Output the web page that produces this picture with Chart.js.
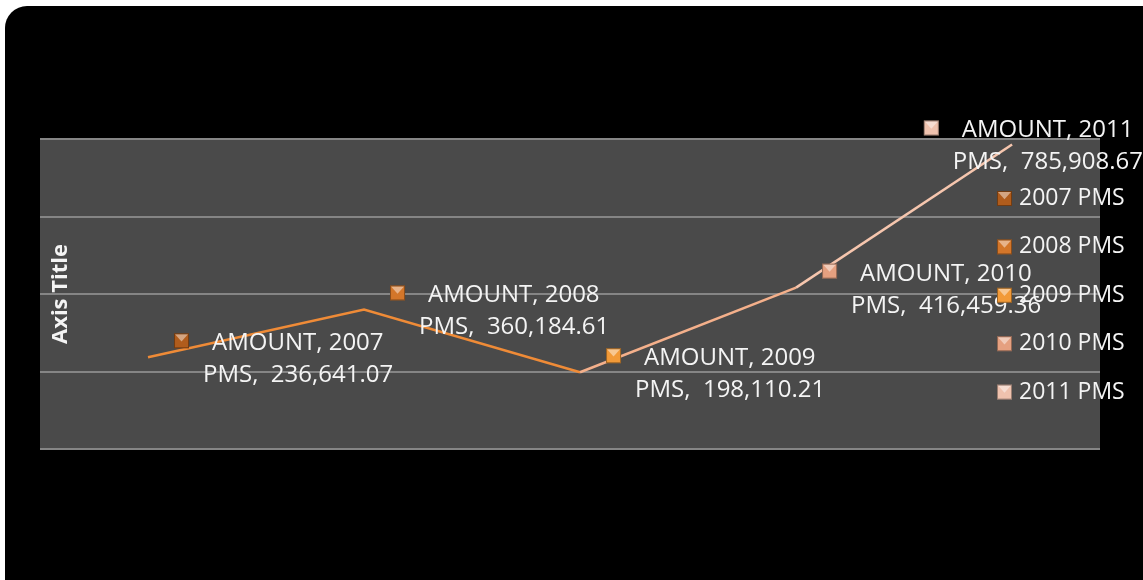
<!DOCTYPE html>
<html>
<head>
<meta charset="utf-8">
<script src="https://cdn.jsdelivr.net/npm/chart.js@4/dist/chart.umd.min.js"></script>
<style>
    html, body { margin:0; padding:0; background:#fff; overflow:hidden; }
    .frame { position:absolute; left:5px; top:6px; width:1170px; height:600px; background:#000; border-radius:22px; }
    #chart { position:absolute; left:0; top:0; }
</style>
</head>
<body>
<div class="frame"></div>
<canvas id="chart" width="1143" height="580"></canvas>
<script>
// datos
const years = ['2007', '2008', '2009', '2010', '2011'];
const seriesName = 'AMOUNT';
const unit = 'PMS';
const amounts = [236641.07, 360184.61, 198110.21, 416459.36, 785908.67];
const yTicks = [0, 200000, 400000, 600000, 800000];
const keyColors = ['#b05c1c', '#d3762a', '#f29a38', '#e5a080', '#efc2ae'];
const lineColors = ['#ef8b37', '#ef8b37', '#f4b08b', '#f6c6ae'];

const FONT = '"Open Sans", Lato, sans-serif';
const TEXT = '#f4f4f4';

function drawKey(ctx, x, y, s, color) {
    // cuadrito con bisel como en Excel
    ctx.save();
    ctx.fillStyle = color;
    ctx.fillRect(x, y, s, s);
    ctx.fillStyle = 'rgba(255,255,255,0.45)';
    ctx.beginPath();
    ctx.moveTo(x + 1, y + 1);
    ctx.lineTo(x + s - 1, y + 1);
    ctx.lineTo(x + s / 2, y + s * 0.55);
    ctx.closePath();
    ctx.fill();
    ctx.strokeStyle = 'rgba(0,0,0,0.35)';
    ctx.lineWidth = 1;
    ctx.strokeRect(x + 0.5, y + 0.5, s - 1, s - 1);
    ctx.restore();
}

const plotBg = {
    id: 'plotBg',
    beforeDraw(chart) {
        const { ctx, chartArea: a } = chart;
        ctx.save();
        ctx.fillStyle = '#4a4a4a';
        ctx.fillRect(a.left, a.top, a.right - a.left, a.bottom - a.top);
        ctx.restore();
    }
};

const labelsPlugin = {
    id: 'excelLabels',
    afterDatasetsDraw(chart) {
        const { ctx, chartArea: a } = chart;
        const meta = chart.getDatasetMeta(0);
        ctx.save();
        ctx.font = '24px ' + FONT;
        ctx.fillStyle = TEXT;
        ctx.textBaseline = 'alphabetic';
        ctx.textAlign = 'left';

        meta.data.forEach((pt, i) => {
            const l1 = seriesName + ', ' + years[i];
            const l2 = unit + ',  ' + amounts[i].toLocaleString('en-US', { minimumFractionDigits: 2, maximumFractionDigits: 2 });
            const l2w = ctx.measureText(l2).width;
            let left = pt.x + 26;
            let shift = Math.max(0, left + 29 + l2w - chart.width);
            left -= shift;
            drawKey(ctx, left, pt.y - 24, 15, keyColors[i]);
            ctx.fillStyle = TEXT;
            ctx.fillText(l1, left + 38, pt.y - 7);
            ctx.fillText(l2, left + 29, pt.y + 25);
        });

        // leyenda
        ctx.font = '23px ' + FONT;
        years.forEach((y, i) => {
            const base = 205 + i * 48.4;
            drawKey(ctx, 997, base - 14, 15, keyColors[i]);
            ctx.fillStyle = TEXT;
            ctx.fillText(y + ' ' + unit, 1019, base);
        });

        // titulo del eje
        ctx.font = 'bold 22px ' + FONT;
        ctx.textAlign = 'center';
        ctx.textBaseline = 'middle';
        ctx.translate(a.left + 21, (a.top + a.bottom) / 2);
        ctx.rotate(-Math.PI / 2);
        ctx.fillText('Axis Title', 0, 0);
        ctx.restore();
    }
};

new Chart(document.getElementById('chart'), {
    type: 'line',
    data: {
        datasets: [{
            label: seriesName,
            data: amounts.map((v, i) => ({ x: i, y: v })),
            borderWidth: 2.5,
            pointRadius: 0,
            tension: 0,
            fill: false,
            segment: {
                borderColor: c => lineColors[c.p0DataIndex]
            }
        }]
    },
    options: {
        responsive: false,
        devicePixelRatio: 1,
        animation: false,
        layout: { padding: { left: 40, right: 43, top: 139, bottom: 131 } },
        plugins: { legend: { display: false }, tooltip: { enabled: false } },
        scales: {
            x: { type: 'linear', min: -0.5, max: 4.407, display: false },
            y: {
                min: yTicks[0],
                max: yTicks[yTicks.length - 1],
                afterBuildTicks: s => { s.ticks = yTicks.map(v => ({ value: v })); },
                ticks: { display: false },
                border: { display: false },
                grid: { color: '#858585', lineWidth: 2, drawTicks: false }
            }
        }
    },
    plugins: [plotBg, labelsPlugin]
});
</script>
</body>
</html>
